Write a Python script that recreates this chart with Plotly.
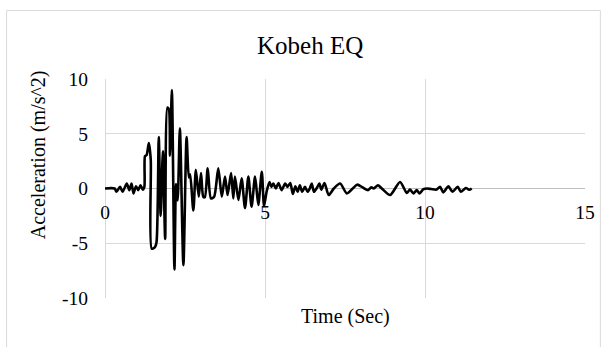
import plotly.graph_objects as go

time_s = [0.0, 0.3, 0.36, 0.47, 0.55, 0.68, 0.76, 0.83, 0.89, 0.97, 1.04, 1.11, 1.18, 1.23,
          1.25, 1.30, 1.37, 1.43, 1.46, 1.56, 1.61, 1.68, 1.74, 1.81, 1.88, 1.95, 2.00, 2.03,
          2.09, 2.17, 2.22, 2.27, 2.34, 2.45, 2.55, 2.62, 2.66, 2.76, 2.84, 2.93, 3.00, 3.07,
          3.12, 3.21, 3.31, 3.41, 3.54, 3.65, 3.75, 3.83, 3.94, 4.01, 4.06, 4.17, 4.27, 4.375,
          4.48, 4.58, 4.69, 4.79, 4.90, 4.97, 5.05, 5.14, 5.20, 5.26, 5.34, 5.42, 5.52, 5.63,
          5.70, 5.79, 5.87, 5.95, 6.02, 6.09, 6.16, 6.25, 6.33, 6.40, 6.46, 6.53, 6.62, 6.70,
          6.76, 6.86, 6.99, 7.15, 7.35, 7.56, 7.88, 8.05, 8.22, 8.32, 8.40, 8.53, 8.65, 8.91,
          9.22, 9.43, 9.53, 9.64, 9.74, 9.83, 9.95, 10.07, 10.2, 10.36, 10.47, 10.57, 10.73,
          10.86, 11.02, 11.12, 11.28, 11.38, 11.46]
accel = [0.0, 0.0, -0.3, 0.15, -0.3, 0.45, -0.15, 0.45, -0.45, 0.2, -0.15, 0.3, -0.1, 0.15,
         2.95, 3.05, 4.15, 2.6, -5.5, -5.35, -4.9, 4.7, -2.5, 3.4, -4.6, 7.4, 7.2, 3.0,
         9.0, -7.4, 0.4, -1.1, 5.5, -7.0, 4.7, 1.0, 1.3, -2.0, 1.7, -0.75, 1.4, -0.75,
         -0.8, 1.85, -0.9, -0.75, 1.85, -0.75, 1.1, -0.6, 1.4, -0.9, 1.08, -1.05, 0.93, -1.8,
         1.08, -1.66, 1.08, -1.5, 1.53, -1.6, -0.3, 0.6, 0.15, 0.45, 0.0, 0.5, -0.15, 0.45,
         0.15, 0.5, -0.5, 0.2, -0.3, 0.3, -0.3, 0.15, -0.3, 0.0, 0.45, -0.3, 0.05, 0.45,
         -0.1, 0.5, -0.6, 0.0, 0.45, -0.45, 0.35, 0.1, -0.15, 0.1, 0.0, 0.3, 0.0, -0.6,
         0.6, -0.4, -0.1, -0.45, -0.15, -0.45, -0.05, 0.0, -0.05, -0.1, 0.15, -0.35, 0.2,
         -0.3, 0.15, -0.3, 0.05, -0.12, 0.0]

x_ticks = [0, 5, 10, 15]
y_ticks = [-10, -5, 0, 5, 10]

FONT = "Liberation Serif, Times New Roman, serif"
GRID = "#d9d9d9"

fig = go.Figure()
fig.add_trace(go.Scatter(x=time_s, y=accel, mode="lines",
                         line=dict(color="black", width=2.6, shape="spline", smoothing=0.7),
                         showlegend=False, hoverinfo="skip"))
# empty trace so the tick-label axis crossing at zero is rendered
fig.add_trace(go.Scatter(x=[], y=[], xaxis="x2", yaxis="y", showlegend=False,
                         hoverinfo="skip"))

fig.update_layout(
    width=607, height=347,
    margin=dict(l=105, r=22, t=79, b=49),
    paper_bgcolor="white", plot_bgcolor="white",
    font=dict(family=FONT, color="#000000"),
    xaxis=dict(range=[0, 15], tickvals=x_ticks, showticklabels=False, ticks="",
               showgrid=True, gridcolor=GRID, gridwidth=1,
               zeroline=True, zerolinecolor=GRID, zerolinewidth=1,
               showline=False, fixedrange=True),
    xaxis2=dict(range=[0, 15], tickvals=x_ticks, ticktext=[str(v) for v in x_ticks],
                overlaying="x", anchor="free", position=0.5, side="bottom",
                showgrid=False, zeroline=False, showline=False, ticks="",
                ticklabelstandoff=10,
                tickfont=dict(size=19.5, family=FONT, color="#000000")),
    yaxis=dict(range=[-10, 10], tickvals=y_ticks, ticktext=[str(v) for v in y_ticks],
               showgrid=True, gridcolor=GRID, gridwidth=1,
               zeroline=True, zerolinecolor="#bfbfbf", zerolinewidth=1.3,
               showline=False, ticks="", ticklabelstandoff=16,
               tickfont=dict(size=19.5, family=FONT, color="#000000")),
    shapes=[dict(type="rect", xref="paper", yref="paper",
                 x0=-0.205, x1=1.032, y0=-0.4, y1=1.313,
                 line=dict(color=GRID, width=1), fillcolor="rgba(0,0,0,0)", layer="below")],
    annotations=[
        dict(text="Kobeh EQ", xref="paper", yref="paper", x=0.4265, y=1.155,
             xanchor="center", yanchor="middle", showarrow=False,
             font=dict(size=25, family=FONT, color="#000000")),
        dict(text="Time (Sec)", xref="paper", yref="paper", x=0.5, y=-0.085,
             xanchor="center", yanchor="middle", showarrow=False,
             font=dict(size=20, family=FONT, color="#000000")),
        dict(text="Acceleration (m/s^2)", xref="paper", yref="paper", x=-0.137, y=0.653,
             xanchor="center", yanchor="middle", showarrow=False, textangle=-90,
             font=dict(size=20, family=FONT, color="#000000")),
    ],
)

fig.write_html("out.html")
